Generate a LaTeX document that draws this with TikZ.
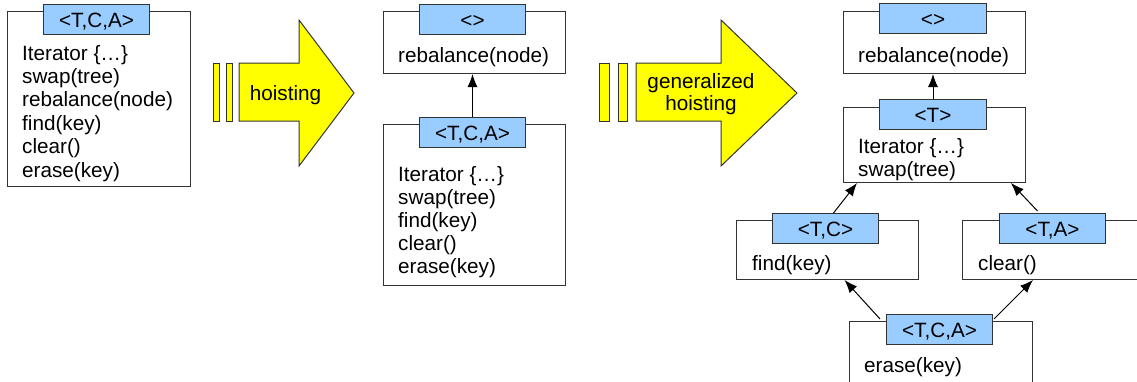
\documentclass[tikz,border=0pt]{standalone}
\usepackage{fontspec}
\setmainfont{Liberation Sans}
\usetikzlibrary{arrows.meta}
\definecolor{lblue}{HTML}{99CCFF}
\definecolor{edgegray}{HTML}{333333}
\definecolor{yel}{HTML}{FFFF00}
\newcommand\dfont{\fontsize{20.7}{23.4}\selectfont}
\begin{document}
\begin{tikzpicture}[x=1pt,y=-1pt,
  cls/.style={draw=edgegray, line width=1pt, fill=white, inner sep=0pt, anchor=north west},
  lbl/.style={draw=edgegray, line width=1pt, fill=lblue, inner sep=0pt, anchor=north west,
              minimum width=106pt, minimum height=30pt, text height=15pt, text depth=0pt, font=\dfont},
  txt/.style={anchor=base west, inner sep=0pt, font=\dfont},
  htxt/.style={anchor=base, inner sep=0pt, font=\dfont},
  arr/.style={-{Latex[length=13pt,width=10pt]}, line width=1pt},
  hoist/.style={draw=edgegray, fill=yel, line width=1pt, line join=miter}]
\useasboundingbox (0,0) rectangle (1137,381);
\clip (0,0) rectangle (1137,381);

% ---------- left class ----------
\node[cls, minimum width=183pt, minimum height=175pt] (A) at (7,11) {};
\node[lbl] (Al) at (43,4) {<T,C,A>};
\foreach \t [count=\i] in {Iterator \{…\}, swap(tree), rebalance(node), find(key), clear(), erase(key)}
  \node[txt] (At\i) at (22,{60+23.4*(\i-1)}) {\t};

% ---------- hoisting arrow ----------
\draw[hoist] (213,63) rectangle (219,121);
\draw[hoist] (226,63) rectangle (232,121);
\draw[hoist] (239,63) -- (299,63) -- (299,20) -- (354,93) -- (299,166) -- (299,121) -- (239,121) -- cycle;
\node[htxt] (h1) at (285.5,100) {hoisting};

% ---------- middle ----------
\node[cls, minimum width=182pt, minimum height=62pt] (Bt) at (383,11) {};
\node[lbl] (Btl) at (419,4) {<>};
\node[txt] (Btt) at (398,62) {rebalance(node)};

\node[cls, minimum width=182pt, minimum height=161pt] (Bb) at (383,124) {};
\node[lbl] (Bbl) at (419,117) {<T,C,A>};
\foreach \t [count=\i] in {Iterator \{…\}, swap(tree), find(key), clear(), erase(key)}
  \node[txt] (Bt\i) at (398,{181+23.1*(\i-1)}) {\t};

\draw[arr] (Bbl.north) -- (Bbl.north |- Bt.south);

% ---------- generalized hoisting arrow ----------
\draw[hoist] (599,63) rectangle (609,121);
\draw[hoist] (618,63) rectangle (627,121);
\draw[hoist] (636,63) -- (721,63) -- (721,20) -- (797,93) -- (721,166) -- (721,121) -- (636,121) -- cycle;
\node[htxt] (g1) at (701,88) {generalized};
\node[htxt] (g2) at (701,110) {hoisting};

% ---------- right ----------
\node[cls, minimum width=182pt, minimum height=62pt] (Ct) at (843,11) {};
\node[lbl, minimum width=107pt] (Ctl) at (879,3) {<>};
\node[txt] (Ctt) at (858,62) {rebalance(node)};

\node[cls, minimum width=182pt, minimum height=75pt] (T) at (843,107) {};
\node[lbl, minimum width=107pt] (Tl) at (879,99) {<T>};
\node[txt] (Tt1) at (858,153) {Iterator \{…\}};
\node[txt] (Tt2) at (858,176) {swap(tree)};

\node[cls, minimum width=182pt, minimum height=59pt] (TC) at (736,220) {};
\node[lbl] (TCl) at (772,213) {<T,C>};
\node[txt] (TCt) at (752,270) {find(key)};

\node[cls, minimum width=182pt, minimum height=59pt] (TA) at (962,220) {};
\node[lbl] (TAl) at (999,213) {<T,A>};
\node[txt] (TAt) at (978,270) {clear()};

\node[cls, minimum width=183pt, minimum height=75pt] (E) at (849,321) {};
\node[lbl] (El) at (886,314) {<T,C,A>};
\node[txt] (Et) at (864,372) {erase(key)};

\draw[arr] (Tl.north) -- (Tl.north |- Ct.south);
\draw[arr] ([xshift=8pt]TCl.north) -- ([xshift=14pt]T.south west);
\draw[arr] ([shift={(-15,-2)}]TAl.north) -- ([xshift=-15pt]T.south east);
\draw[arr] ([shift={(-6,5)}]El.north west) -- ([xshift=17pt]TC.south);
\draw[arr] ([shift={(1,5)}]El.north east) -- ([xshift=71pt]TA.south west);
\end{tikzpicture}
\end{document}
